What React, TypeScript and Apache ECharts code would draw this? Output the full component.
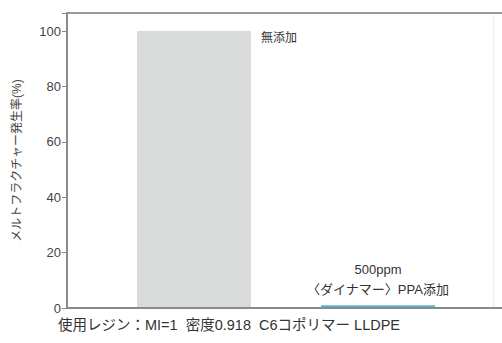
import React, { useEffect, useRef } from "react";
import * as echarts from "echarts";

const categories = ["無添加", "500ppm\n〈ダイナマー〉PPA添加"];
const values = [100, 1];
const barColors = ["#d9dbdb", "#5ab4d6"];
const yTicks = [0, 20, 40, 60, 80, 100];
const yAxisName = "メルトフラクチャー発生率(%)";
const caption = "使用レジン：MI=1  密度0.918  C6コポリマー LLDPE";

const FONT = "'Liberation Sans', 'Noto Sans CJK JP', sans-serif";

export default function App() {
  const ref = useRef<HTMLDivElement>(null);
  useEffect(() => {
    if (!ref.current) return;
    const chart = echarts.init(ref.current, undefined, { renderer: "svg" });
    const yMax = 106.5;
    chart.setOption({
      animation: false,
      backgroundColor: "#ffffff",
      grid: [
        { left: 67, right: -6, top: 13, bottom: 35, show: false },
        { left: 102, width: 368, top: 13, bottom: 35, show: false },
      ],
      xAxis: [
        {
          type: "value",
          gridIndex: 0,
          min: 0,
          max: 1,
          position: "bottom",
          axisLine: { show: true, lineStyle: { color: "#8a8a8a", width: 2 } },
          axisTick: { show: false },
          axisLabel: { show: false },
          splitLine: { show: false },
          z: 5,
        },
        {
          type: "category",
          gridIndex: 1,
          data: categories,
          axisLine: { show: false },
          axisTick: { show: false },
          axisLabel: { show: false },
          splitLine: { show: false },
        },
      ],
      yAxis: [
        {
          type: "value",
          gridIndex: 0,
          min: 0,
          max: yMax,
          interval: 20,
          axisLine: { show: true, lineStyle: { color: "#8a8a8a", width: 2 } },
          axisTick: { show: true, length: 5, lineStyle: { color: "#8a8a8a", width: 1 } },
          axisLabel: {
            color: "#444",
            fontSize: 13,
            fontFamily: FONT,
            margin: 6,
            formatter: (v: number) => (yTicks.includes(v) ? String(v) : ""),
          },
          splitLine: { show: false },
          name: yAxisName,
          nameLocation: "middle",
          nameGap: 44,
          nameRotate: 90,
          nameTextStyle: { color: "#444", fontSize: 12, fontFamily: FONT },
        },
        {
          type: "value",
          gridIndex: 1,
          min: 0,
          max: yMax,
          show: false,
        },
      ],
      series: [
        {
          type: "bar",
          xAxisIndex: 1,
          yAxisIndex: 1,
          barWidth: 114,
          data: values.map((v, i) => ({
            value: v,
            itemStyle: { color: barColors[i] },
            label:
              i === 0
                ? {
                    show: true,
                    position: [124, 1],
                    formatter: categories[0],
                    color: "#333",
                    fontSize: 12,
                    fontFamily: FONT,
                  }
                : {
                    show: true,
                    position: "top",
                    distance: 6,
                    formatter: categories[1],
                    color: "#333",
                    fontSize: 13,
                    lineHeight: 20,
                    fontFamily: FONT,
                    align: "center",
                  },
          })),
        },
      ],
      graphic: [
        {
          type: "line",
          shape: { x1: 67, y1: 13, x2: 502, y2: 13 },
          style: { stroke: "#9a9a9a", lineWidth: 2 },
        },
        {
          type: "line",
          shape: { x1: 493.5, y1: 14, x2: 493.5, y2: 307 },
          style: { stroke: "#eeeeee", lineWidth: 1 },
        },
        {
          type: "text",
          left: 58,
          top: 318,
          style: {
            text: caption,
            fill: "#333",
            fontSize: 14.5,
            fontFamily: FONT,
          },
        },
      ],
    });
    return () => chart.dispose();
  }, []);
  return (
    <div
      ref={ref}
      style={{ position: "fixed", left: 0, top: 0, width: 502, height: 343 }}
    />
  );
}
